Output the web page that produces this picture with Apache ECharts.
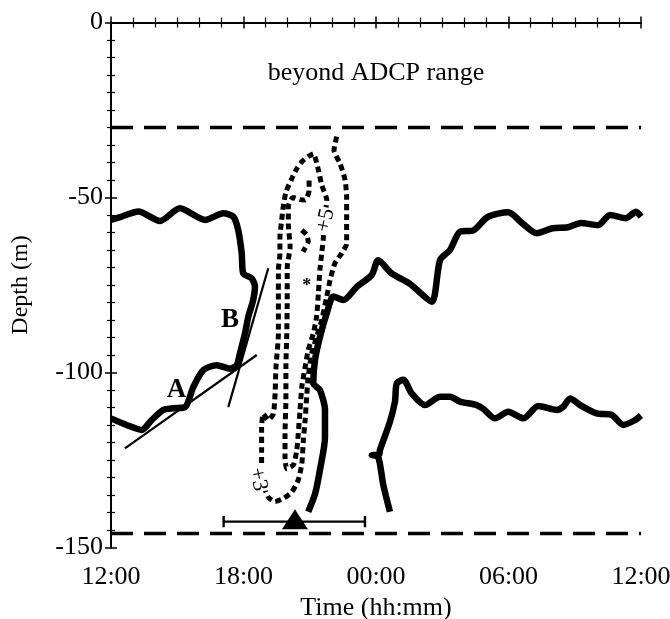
<!DOCTYPE html>
<html><head><meta charset="utf-8">
<script src="https://cdn.jsdelivr.net/npm/echarts@6/dist/echarts.min.js"></script>
<style>html,body{margin:0;padding:0;background:#fff}#c{width:670px;height:619px}</style>
</head><body><div id="c"></div>
<script>
// x: hours since 12:00 on day 1; y: depth (m)
const xTickLabels = ['12:00', '18:00', '00:00', '06:00', '12:00'];
const rangeLimits = [-30, -146];
const upperLeftCurve = [[0,-56.4],[0.41,-55.6],[1.24,-54.0],[2.22,-56.7],[3.12,-53.1],[4.26,-56.4],[5.09,-54.5],[5.54,-55.5],[5.76,-59.3],[5.92,-66],[5.99,-71.7],[6.37,-73.1],[6.52,-75.5],[6.44,-79.3],[6.22,-84],[6.07,-88.8],[5.84,-94.5],[5.69,-97.9],[5.39,-98.9],[4.79,-97.9],[4.18,-99.3],[3.73,-104.1],[3.35,-109.9],[2.82,-110.2],[2.37,-110.7],[1.84,-113.6],[1.39,-116.4],[0.71,-115],[0,-113.1]];
const upperRightCurve = [[8.93,-139.8],[9.24,-134.7],[9.46,-127.9],[9.69,-118.5],[9.69,-110.7],[9.46,-105],[9.16,-103.1],[9.24,-96.4],[9.46,-89.9],[9.77,-83.1],[10.07,-78.3],[10.52,-79.3],[11.12,-75.6],[11.81,-72.1],[12.10,-67.9],[12.71,-71.7],[13.54,-74.7],[14.52,-79.8],[14.90,-67.9],[15.35,-65],[15.80,-59.8],[16.41,-59.4],[17.07,-55.5],[17.99,-54.2],[18.63,-57.4],[19.28,-60.2],[19.99,-58.8],[20.69,-58.5],[21.28,-57.3],[22.05,-57.9],[22.60,-55],[23.32,-55.9],[23.77,-54.1],[24,-55.5]];
const lowerRightCurve = [[12.63,-139.8],[12.33,-132.1],[12.10,-124.1],[11.81,-123.6],[12.14,-123.4],[12.18,-122.1],[12.63,-114.1],[12.86,-108.3],[12.94,-103.1],[13.24,-102.1],[13.62,-106],[14.22,-109.3],[14.90,-106.9],[15.35,-106.9],[15.80,-108.3],[16.56,-109.3],[16.86,-110.4],[17.39,-113.1],[17.99,-111.2],[18.67,-113.1],[19.35,-109.6],[20.18,-110.7],[20.48,-109.8],[20.79,-107.4],[21.24,-109.3],[21.99,-111.7],[22.67,-112.1],[23.20,-115],[23.73,-113.6],[24,-112.3]];
const track = [[10.22,-32.6],[10.10,-36.5],[10.37,-40.3],[10.60,-45],[10.67,-50],[10.67,-56.4],[10.67,-63.2],[10.45,-65.9],[10.14,-68.8],[9.92,-73.6],[9.77,-78.3],[9.54,-85],[9.31,-89.9],[9.09,-94.5],[8.93,-101.3],[8.86,-107],[8.79,-113.6],[8.71,-119.4],[8.64,-126.1],[8.48,-130.7],[8.18,-134.2],[7.80,-136],[7.43,-136.9],[7.12,-135.6],[6.82,-130],[6.82,-126.1],[6.82,-122.3],[6.82,-115.6],[6.90,-111.8],[7.12,-113.6],[7.35,-111.8],[7.43,-106.1],[7.47,-98.5],[7.58,-88.9],[7.58,-79.3],[7.58,-70.7],[7.65,-66],[7.65,-61.3],[7.73,-56.4],[7.80,-52.6],[7.92,-48.5],[8.18,-44.7],[8.41,-41.8],[8.64,-39.8],[8.93,-38.3],[9.16,-37.5],[9.39,-42.1],[9.54,-46.4],[9.77,-50.7],[9.65,-57],[9.61,-62.1],[9.54,-66],[9.46,-70.7],[9.39,-77.5],[9.31,-84],[9.16,-88.9],[8.93,-93.6],[8.79,-98.5],[8.64,-104.1],[8.56,-110.7],[8.48,-117.5],[8.41,-122.3],[8.26,-126.4],[7.96,-127.5],[7.88,-124],[7.88,-117.5],[7.92,-107.9],[7.92,-98.5],[7.96,-88.9],[7.98,-79.3],[7.98,-70],[8.11,-64.1],[8.03,-57.5],[8.03,-52.6],[8.24,-50],[8.56,-50.6],[8.79,-50.7],[8.97,-48],[8.97,-44]];
const trackFragment = [[8.64,-59.3],[8.86,-60.7],[8.93,-62.6],[8.79,-64.4],[8.70,-65.5]];
const lineA = [[0.63,-121.7],[6.6,-95]];
const lineB = [[5.31,-109.9],[7.12,-70.2]];
const errorBar = [[5.1,-142.6],[11.5,-142.6]];
const errorCapLeft = [[5.1,-141],[5.1,-144.2]];
const errorCapRight = [[11.5,-141],[11.5,-144.2]];
const triangleMark = [[8.33,-141.9]];
const textLabels = [
  {value:[12,-14.5], text:'beyond ADCP range', size:26, weight:'normal', rotate:0, bg:null},
  {value:[2.97,-105], text:'A', size:27, weight:'bold', rotate:0, bg:null},
  {value:[5.39,-85], text:'B', size:27, weight:'bold', rotate:0, bg:null},
  {value:[6.66,-130.5], text:'+3', size:22, weight:'normal', rotate:-78, bg:'#fff'},
  {value:[9.72,-56.5], text:'+5', size:22, weight:'normal', rotate:78, bg:'#fff'},
  {value:[8.86,-75.5], text:'*', size:18, weight:'bold', rotate:0, bg:null}
];

const serif = 'Liberation Serif, Times New Roman, serif';
const chart = echarts.init(document.getElementById('c'), null, {renderer:'canvas'});
const axisLine = {show:true, lineStyle:{color:'#000', width:2}};
function lineSeries(data, width, type, smooth) {
  return {type:'line', data:data, symbol:'none', smooth:smooth||false, xAxisIndex:0, yAxisIndex:0,
    lineStyle:{color:'#000', width:width, type:type||'solid', cap:'butt', join:'round', opacity:1}, z:3, silent:true};
}
const series = [
  lineSeries([[0,rangeLimits[0]],[24,rangeLimits[0]]], 3.4, [22,11]),
  lineSeries([[0,rangeLimits[1]],[24,rangeLimits[1]]], 3.4, [22,11]),
  lineSeries(track, 5, [6,4], 0.2),
  lineSeries(trackFragment, 5, [6,4], 0.2),
  lineSeries(upperLeftCurve, 6.5, 'solid', 0.25),
  lineSeries(upperRightCurve, 6.5, 'solid', 0.25),
  lineSeries(lowerRightCurve, 6.5, 'solid', 0.25),
  lineSeries(lineA, 2.2),
  lineSeries(lineB, 2.2),
  lineSeries(errorBar, 2.4),
  lineSeries(errorCapLeft, 2.4),
  lineSeries(errorCapRight, 2.4),
  {type:'scatter', data:triangleMark, symbol:'triangle', symbolSize:[26,20], itemStyle:{color:'#000', opacity:1}, z:5, silent:true},
  {type:'scatter', symbolSize:0, z:6, silent:true, itemStyle:{color:'#000', opacity:1},
    data:textLabels.map(t => ({value:t.value, label:{show:true, position:'inside', formatter:t.text, fontSize:t.size, fontWeight:t.weight, rotate:t.rotate, fontFamily:serif, color:'#000', opacity:1, textBorderWidth:0,
      backgroundColor:t.bg || 'transparent', padding:t.bg ? [0,1] : 0, lineHeight:t.size}}))}
];
chart.setOption({
  backgroundColor:'#fff',
  animation:false,
  grid:{left:111, right:29, top:22.5, bottom:71.5, containLabel:false, outerBoundsMode:'none'},
  xAxis:[
    {type:'value', min:0, max:24, interval:6, position:'bottom',
     name:'Time (hh:mm)', nameLocation:'middle', nameGap:45,
     nameTextStyle:{fontFamily:serif, fontSize:26, color:'#000'},
     axisLine:axisLine, splitLine:{show:false},
     axisTick:{show:true, inside:false, length:6, lineStyle:{color:'#000', width:1.5}},
     minorTick:{show:true, splitNumber:6, length:5, lineStyle:{color:'#000', width:1.2}},
     axisLabel:{show:true, margin:17, fontFamily:serif, fontSize:26, color:'#000', showMaxLabel:true, showMinLabel:true,
       formatter:v => xTickLabels[Math.round(v/6)]}},
    {type:'value', min:0, max:24, interval:6, position:'top',
     axisLine:axisLine, splitLine:{show:false},
     axisTick:{show:true, inside:false, length:6, lineStyle:{color:'#000', width:1.5}},
     minorTick:{show:true, splitNumber:6, length:5, lineStyle:{color:'#000', width:1.2}},
     axisLabel:{show:false}}
  ],
  yAxis:[
    {type:'value', min:-150, max:0, interval:50, position:'left',
     name:'Depth (m)', nameLocation:'middle', nameGap:78, nameRotate:90,
     nameTextStyle:{fontFamily:serif, fontSize:24, color:'#000'},
     axisLine:axisLine, splitLine:{show:false},
     axisTick:{show:true, inside:false, length:6, lineStyle:{color:'#000', width:1.5}},
     minorTick:{show:true, splitNumber:10, length:4, lineStyle:{color:'#000', width:1.2}},
     axisLabel:{show:true, margin:8, fontFamily:serif, fontSize:26, color:'#000'}},
    {type:'value', min:-150, max:0, interval:50, position:'right',
     axisLine:axisLine, splitLine:{show:false},
     axisTick:{show:true, inside:false, length:6, lineStyle:{color:'#000', width:1.5}},
     minorTick:{show:true, splitNumber:10, length:4, lineStyle:{color:'#000', width:1.2}},
     axisLabel:{show:false}}
  ],
  series:series
});
</script></body></html>
